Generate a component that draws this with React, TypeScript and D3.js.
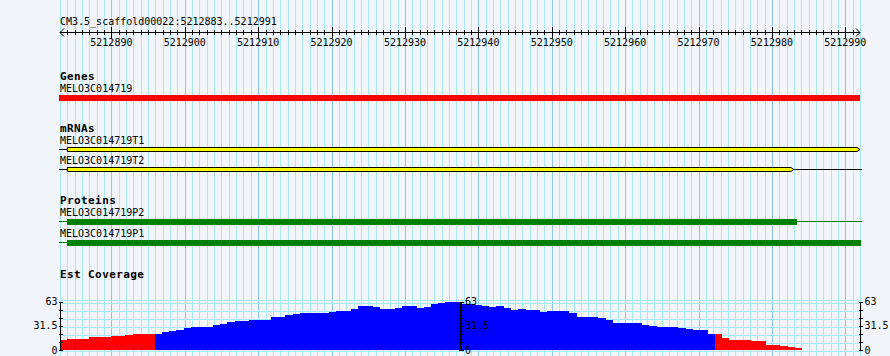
import React from "react";
import * as d3 from "d3";

const TITLE = "CM3.5_scaffold00022:5212883..5212991";
const VIEW_START = 5212883;
const VIEW_END = 5212991;
const rulerLabels = [5212890, 5212900, 5212910, 5212920, 5212930, 5212940, 5212950, 5212960, 5212970, 5212980, 5212990];

const geneNames = ["MELO3C014719"];
const geneStarts = [5212700];
const geneEnds = [5213100];

const mrnaNames = ["MELO3C014719T1", "MELO3C014719T2"];
const mrnaSpanStarts = [5212700, 5212700];
const mrnaSpanEnds = [5213100, 5213100];
const mrnaExonStarts = [5212884, 5212884];
const mrnaExonEnds = [5212992, 5212983];

const proteinNames = ["MELO3C014719P2", "MELO3C014719P1"];
const proteinSpanStarts = [5212700, 5212700];
const proteinSpanEnds = [5213100, 5213100];
const proteinCdsStarts = [5212884, 5212884];
const proteinCdsEnds = [5212983.3, 5212992];

const coverageMax = 63;
const coveragePivot = 21.2;
const coverageTicks = [0, 31.5, 63];
const coverage = [
  12.6, 14.8, 14.8, 14.8, 16.5, 16.5, 16.5, 17.7, 17.7, 19.0,
  20.3, 21.0, 21.0, 21.4, 23.8, 25.1, 26.4, 28.0, 29.3, 29.3,
  30.2, 32.8, 34.1, 36.6, 38.3, 38.3, 39.6, 39.6, 39.6, 43.1,
  43.1, 45.6, 46.9, 48.6, 48.6, 48.6, 48.6, 49.9, 51.2, 51.2,
  53.4, 57.2, 57.2, 55.9, 53.4, 53.4, 54.6, 57.2, 57.2, 54.6,
  55.9, 59.8, 61.1, 63.0, 62.4, 59.8, 59.8, 58.5, 57.2, 55.9,
  57.2, 54.6, 52.1, 53.4, 52.1, 52.1, 49.9, 51.2, 51.2, 51.2,
  48.6, 43.1, 43.1, 43.1, 41.8, 39.2, 34.5, 34.5, 34.5, 34.5,
  32.8, 31.5, 30.2, 30.2, 30.2, 28.0, 26.7, 25.5, 25.5, 21.4,
  21.0, 16.1, 13.5, 13.5, 13.5, 12.2, 11.3, 7.1, 7.1, 5.8,
  4.5, 2.3, 0, 0, 0, 0, 0, 0, 0, 0,
];

const W = 890;
const H = 356;
const BG = "#f2f5fa";
const GRID_MINOR = "#a8eaf0";
const GRID_MAJOR = "#8cc8ee";
const FONT = "'DejaVu Sans Mono', monospace";

export default function App() {
  const x = d3.scaleLinear().domain([VIEW_START, VIEW_END + 1]).range([60, 860]);
  const bx = d3.scaleLinear().domain([0, coverage.length]).range([60, 860]);
  const y = d3.scaleLinear().domain([0, coverageMax]).range([350, 301.5]);
  const clampX = (v: number) => Math.max(60, Math.min(860, x(v)));

  const bases = d3.range(VIEW_START, VIEW_END + 2);
  const hGridVals = d3.range(0, coverageMax + 0.01, coverageMax / 6);
  const axisTickVals = d3.range(0, coverageMax + 0.01, coverageMax / 6);

  const label = (t: string, xx: number, yy: number, bold = false, key?: string) => (
    <text key={key} x={xx} y={yy} fontFamily={FONT} fontSize={bold ? 11 : 10}
      fontWeight={bold ? "bold" : "normal"} letterSpacing={bold ? 0.4 : 0} fill="#000">{t}</text>
  );

  const exonShape = (x0: number, x1: number, top: number, h: number, fill: string, key: string) => {
    const tip = 3;
    const mid = top + h / 2;
    const d = `M${x0},${top} L${x1 - tip},${top} L${x1},${mid} L${x1 - tip},${top + h} L${x0},${top + h} Z`;
    return <path key={key} d={d} fill={fill} stroke="#000" strokeWidth={1} />;
  };

  const mrnaRowY = [147.5, 167.5];
  const mrnaLabelY = [144, 164];
  const protRowY = [219, 240];
  const protLabelY = [216, 237];

  const axisAt = (ax: number, side: "left" | "right", width: number) => (
    <g key={"ax" + ax}>
      <line x1={ax} x2={ax} y1={y(coverageMax)} y2={y(0)} stroke="#000" strokeWidth={width} />
      {axisTickVals.map((v, i) => (
        <line key={i} x1={ax - 2} x2={ax + 2.5} y1={Math.round(y(v)) + 0.5} y2={Math.round(y(v)) + 0.5} stroke="#000" strokeWidth={1} />
      ))}
      {coverageTicks.map((v, i) => (
        <text key={"t" + i} x={side === "left" ? ax - 3 : ax + 4} y={y(v) + 3.5}
          textAnchor={side === "left" ? "end" : "start"} fontFamily={FONT} fontSize={10} fill="#000">
          {String(v)}
        </text>
      ))}
    </g>
  );

  return (
    <svg width={W} height={H} style={{ position: "absolute", left: 0, top: 0, background: BG }}>
      <rect x={0} y={0} width={W} height={H} fill={BG} />
      <g shapeRendering="crispEdges">
        {bases.map((b) => (
          <line key={b} x1={Math.round(x(b)) + 0.5} x2={Math.round(x(b)) + 0.5} y1={0} y2={H}
            stroke={b % 10 === 0 ? GRID_MAJOR : GRID_MINOR} strokeWidth={1} />
        ))}
        {hGridVals.map((v, i) => (
          <line key={"h" + i} x1={60} x2={860} y1={Math.round(y(v)) + 1.5} y2={Math.round(y(v)) + 1.5}
            stroke={GRID_MINOR} strokeWidth={1} />
        ))}
        <line x1={60} x2={860} y1={300.5} y2={300.5} stroke={GRID_MINOR} strokeWidth={1} />
      </g>

      {label(TITLE, 60, 25)}

      <g shapeRendering="crispEdges">
        <line x1={60} x2={860} y1={32.5} y2={32.5} stroke="#000" />
        {bases.filter((b) => b > VIEW_START && b <= VIEW_END).map((b) => {
          const major = b % 10 === 0;
          const xx = Math.round(x(b)) + 0.5;
          return <line key={b} x1={xx} x2={xx} y1={major ? 27 : 30} y2={major ? 38 : 35} stroke="#000" />;
        })}
      </g>
      <path d="M64,28.5 L60,32.5 L64,36.5" fill="none" stroke="#000" />
      <path d="M856,28.5 L860,32.5 L856,36.5" fill="none" stroke="#000" />
      {rulerLabels.map((r) => (
        <text key={r} x={x(r)} y={46} textAnchor="middle" fontFamily={FONT} fontSize={10} fill="#000">{r}</text>
      ))}

      {label("Genes", 60, 80, true)}
      {geneNames.map((g, i) => (
        <g key={g}>
          {label(g, 60, 92)}
          <rect x={clampX(geneStarts[i]) - 1} y={95} width={clampX(geneEnds[i]) - clampX(geneStarts[i]) + 1} height={6} fill="#ff0000" />
        </g>
      ))}

      {label("mRNAs", 60, 132, true)}
      {mrnaNames.map((m, i) => {
        const top = mrnaRowY[i];
        const mid = Math.round(top + 2.5) - 0.5 + 0.5;
        return (
          <g key={m}>
            {label(m, 60, mrnaLabelY[i])}
            <line x1={clampX(mrnaSpanStarts[i]) - 1} x2={clampX(mrnaExonStarts[i])} y1={mid - 0.5} y2={mid - 0.5} stroke="#000" />
            {x(mrnaExonEnds[i]) < 860 && (
              <line x1={x(mrnaExonEnds[i])} x2={clampX(mrnaSpanEnds[i]) + 2} y1={mid - 0.5} y2={mid - 0.5} stroke="#000" />
            )}
            {exonShape(clampX(mrnaExonStarts[i]), clampX(mrnaExonEnds[i]), top, 4, "#ffff00", "e" + i)}
          </g>
        );
      })}

      {label("Proteins", 60, 204, true)}
      {proteinNames.map((p, i) => {
        const top = protRowY[i];
        return (
          <g key={p} shapeRendering="crispEdges">
            {label(p, 60, protLabelY[i])}
            <line x1={clampX(proteinSpanStarts[i]) - 1} x2={clampX(proteinCdsStarts[i])} y1={top + 2.5} y2={top + 2.5} stroke="#008000" />
            {x(proteinCdsEnds[i]) < 860 && (
              <line x1={x(proteinCdsEnds[i])} x2={clampX(proteinSpanEnds[i]) + 2} y1={top + 2.5} y2={top + 2.5} stroke="#008000" />
            )}
            <rect x={clampX(proteinCdsStarts[i])} y={top} width={clampX(proteinCdsEnds[i]) - clampX(proteinCdsStarts[i]) + 1} height={6} fill="#008000" />
          </g>
        );
      })}

      {label("Est Coverage", 60, 278, true)}
      <g shapeRendering="crispEdges">
        {coverage.map((v, i) => v > 0 && (
          <rect key={i} x={bx(i)} y={y(v)} width={bx(i + 1) - bx(i) + 0.3} height={y(0) - y(v)}
            fill={v < coveragePivot ? "#ff0000" : "#0000ff"} />
        ))}
      </g>
      <g shapeRendering="crispEdges">
        {axisAt(60.5, "left", 1)}
        {axisAt(461, "right", 2)}
        {axisAt(860.5, "right", 1)}
      </g>
    </svg>
  );
}
